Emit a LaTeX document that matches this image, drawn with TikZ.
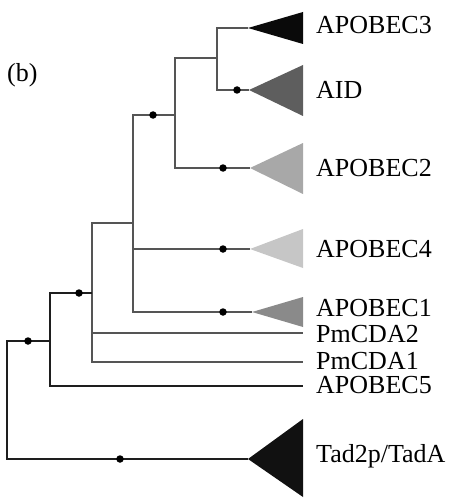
\documentclass[tikz,border=0pt]{standalone}
\usepackage{fontspec}
\setmainfont{Liberation Serif}
\definecolor{upline}{HTML}{555555}
\definecolor{lowline}{HTML}{1E1E1E}
\definecolor{cA}{HTML}{0A0A0A}
\definecolor{cAID}{HTML}{5E5E5E}
\definecolor{cB2}{HTML}{A8A8A8}
\definecolor{cB4}{HTML}{C6C6C6}
\definecolor{cB1}{HTML}{8A8A8A}
\definecolor{cTad}{HTML}{111111}
\begin{document}
\begin{tikzpicture}[x=1pt,y=-1pt,
  br/.style={draw=upline,line width=2.2pt},
  brd/.style={draw=lowline,line width=2.2pt},
  dot/.style={circle,fill=black,inner sep=0pt,minimum size=7.5pt},
  lab/.style={anchor=base west,inner sep=0pt,font=\fontsize{26}{28}\selectfont}]
\useasboundingbox (0,0) rectangle (452,500);
% internal nodes (attachment point of each clade's vertical bar)
\coordinate (a6) at (217,58);
\coordinate (a5) at (175,115);
\coordinate (a4) at (133,223);
\coordinate (a3) at (92,293);
\coordinate (a2) at (50,341);
\coordinate (a1) at (7,400);
% leaf attachment points
\coordinate (tA3) at (248,28);
\coordinate (tAID) at (249,90);
\coordinate (tB2) at (250,168);
\coordinate (tB4) at (250,249);
\coordinate (tB1) at (252,312);
\coordinate (eP2) at (303,333);
\coordinate (eP1) at (303,362);
\coordinate (eB5) at (303,386);
\coordinate (tTad) at (248,459);
% triangles
\fill[cA] (tA3) -- (303,12) -- (303,44) -- cycle;
\fill[cAID] (tAID) -- (303,65) -- (303,116) -- cycle;
\fill[cB2] (tB2) -- (303,143) -- (303,194) -- cycle;
\fill[cB4] (tB4) -- (303,229) -- (303,268) -- cycle;
\fill[cB1] (tB1) -- (303,297) -- (303,327) -- cycle;
\fill[cTad] (tTad) -- (303,419) -- (303,497) -- cycle;
% upper branches
\draw[br] (tA3) -| (a6) |- (tAID);
\draw[br] (a6) -- (a6 -| a5) |- (tB2);
\draw[br] (a5) -- (a5 -| a4) |- (tB1);
\draw[br] (a4 |- tB4) -- (tB4);
\draw[br] (a4) -- (a4 -| a3) |- (eP1);
\draw[br] (a3 |- eP2) -- (eP2);
% lower branches
\draw[brd] (a3) -- (a3 -| a2) |- (eB5);
\draw[brd] (a2) -- (a2 -| a1) |- (tTad);
% dots
\node[dot] (d1) at (237,90) {};
\node[dot] (d2) at (153,115) {};
\node[dot] (d3) at (223,168) {};
\node[dot] (d4) at (223,249) {};
\node[dot] (d5) at (223,312) {};
\node[dot] (d6) at (79,293) {};
\node[dot] (d7) at (28,341) {};
\node[dot] (d8) at (120,459) {};
% labels
\node[lab] (lA3) at (316,33.5) {APOBEC3};
\node[lab] (lAID) at (316,98.5) {AID};
\node[lab] (lB2) at (316,176.5) {APOBEC2};
\node[lab] (lB4) at (316,257.5) {APOBEC4};
\node[lab] (lB1) at (316,316.5) {APOBEC1};
\node[lab] (lP2) at (316,342.5) {PmCDA2};
\node[lab] (lP1) at (316,369) {PmCDA1};
\node[lab] (lB5) at (316,393.5) {APOBEC5};
\node[lab] (lTad) at (316,462.5) {Tad2p/TadA};
\node[lab] (lb) at (7,82) {(b)};
\end{tikzpicture}
\end{document}
